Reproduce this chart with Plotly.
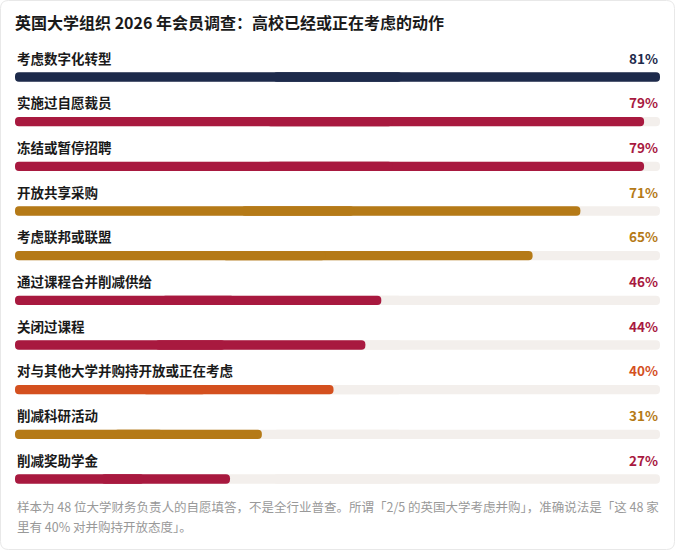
import plotly.graph_objects as go

categories = [
    "考虑数字化转型",
    "实施过自愿裁员",
    "冻结或暂停招聘",
    "开放共享采购",
    "考虑联邦或联盟",
    "通过课程合并削减供给",
    "关闭过课程",
    "对与其他大学并购持开放或正在考虑",
    "削减科研活动",
    "削减奖助学金",
]
values = [81, 79, 79, 71, 65, 46, 44, 40, 31, 27]
bar_colors = [
    "#1d2a4b", "#a8193f", "#a8193f", "#b57a17", "#b57a17",
    "#a8193f", "#a8193f", "#d4501f", "#b57a17", "#a8193f",
]

title_text = "英国大学组织 2026 年会员调查：高校已经或正在考虑的动作"
note_lines = [
    "样本为 48 位大学财务负责人的自愿填答，不是全行业普查。所谓「2/5 的英国大学考虑并购」，准确说法是「这 48 家",
    "里有 40% 对并购持开放态度」。",
]

FONT = "Noto Sans CJK SC"
W, H = 675, 550
ML, MR, MT, MB = 15, 15, 45, 60
rows = list(range(len(categories)))
vmax = max(values)
BW = 0.21


def pill(vals, colors, hover):
    # each bar is drawn as two overlapping pieces growing in opposite
    # directions, so the corner radius rounds both the left and right end
    out = []
    for base_f, len_f in ((0.4, 0.6), (0.6, -0.6)):
        out.append(go.Bar(
            x=[v * len_f for v in vals], base=[v * base_f for v in vals],
            y=rows, orientation="h", width=BW,
            marker=dict(color=colors, line=dict(width=0), cornerradius="50%"),
            customdata=[[c, v] for c, v in zip(categories, vals)],
            hovertemplate="%{customdata[0]}: %{customdata[1]}%<extra></extra>" if hover else None,
            hoverinfo=None if hover else "skip",
            showlegend=False,
        ))
    return out


fig = go.Figure()
for t in pill([vmax] * len(rows), "#f3efec", False):
    fig.add_trace(t)
for t in pill(values, bar_colors, True):
    fig.add_trace(t)

annotations = []
for i, (cat, v, c) in enumerate(zip(categories, values, bar_colors)):
    annotations.append(dict(
        x=0, xref="paper", y=i - 0.43, yref="y", text=f"<b>{cat}</b>",
        showarrow=False, xanchor="left", yanchor="middle",
        font=dict(family=FONT, size=13.5, color="#1a1a1a"),
    ))
    annotations.append(dict(
        x=1, xref="paper", y=i - 0.43, yref="y", text=f"<b>{v}%</b>",
        showarrow=False, xanchor="right", yanchor="middle",
        font=dict(family=FONT, size=13.5, color=c),
    ))

pw, ph = W - ML - MR, H - MT - MB
for k, line in enumerate(note_lines):
    annotations.append(dict(
        x=0, xref="paper", y=(H - MB - (506 + 20 * k)) / ph, yref="paper", text=line,
        showarrow=False, xanchor="left", yanchor="middle", align="left",
        font=dict(family=FONT, size=12.5, color="#999999"),
    ))


# faint rounded card outline, built in pixels then mapped to paper coords
def px(x, y):
    return f"{(x - ML) / pw:.5f},{(H - MB - y) / ph:.5f}"


r, a, b, c, d = 8, 0.5, 0.5, W - 0.5, H - 0.5
card = (f"M{px(a + r, b)} L{px(c - r, b)} Q{px(c, b)} {px(c, b + r)} "
        f"L{px(c, d - r)} Q{px(c, d)} {px(c - r, d)} L{px(a + r, d)} "
        f"Q{px(a, d)} {px(a, d - r)} L{px(a, b + r)} Q{px(a, b)} {px(a + r, b)} Z")

fig.update_layout(
    width=W, height=H,
    margin=dict(l=ML, r=MR, t=MT, b=MB),
    paper_bgcolor="white", plot_bgcolor="white",
    barmode="overlay",
    title=dict(text=f"<b>{title_text}</b>", x=ML / W, xanchor="left",
               y=1 - 23 / H, yanchor="middle", yref="container",
               font=dict(family=FONT, size=16, color="#1a1a1a")),
    xaxis=dict(range=[0, vmax], visible=False, fixedrange=True),
    yaxis=dict(range=[9.246, -0.716], visible=False, fixedrange=True),
    annotations=annotations,
    shapes=[dict(type="path", xref="paper", yref="paper", path=card,
                 line=dict(color="#e8e8e8", width=1), layer="below")],
    showlegend=False,
)

# drop the browser's default page margin so the figure sits at the window corner
fig.write_html("out.html", config={"displayModeBar": False},
               post_script="document.body.style.margin='0';")
